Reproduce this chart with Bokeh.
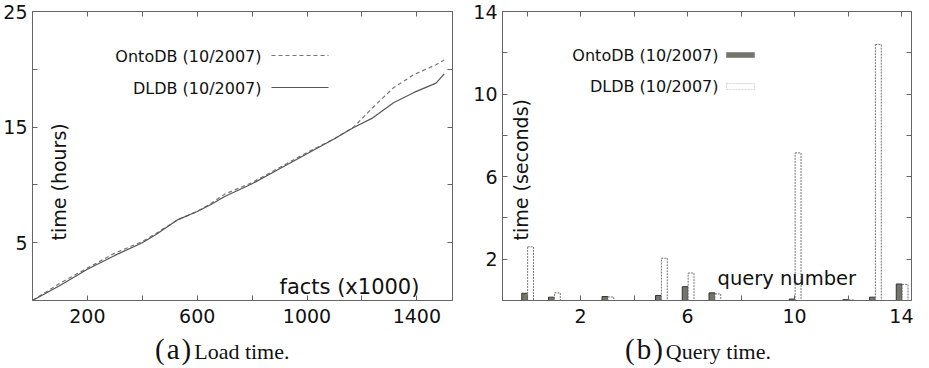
from bokeh.plotting import figure
from bokeh.layouts import row, column
from bokeh.models import (Label, Arrow, BoxAnnotation, FixedTicker, LinearAxis,
                          Range1d, ColumnDataSource, CustomJSTickFormatter, Div)
from bokeh.transform import dodge
from bokeh.embed import file_html
from bokeh.resources import INLINE

# ---------------- data ----------------
facts_k = [0, 100, 200, 300, 400, 450, 530, 600, 650, 700, 800, 900, 1000,
           1100, 1170, 1240, 1315, 1390, 1470, 1500]
dldb_hours = [0, 1.3, 2.7, 3.9, 5.0, 5.7, 7.0, 7.7, 8.3, 9.0, 10.1, 11.4, 12.7,
              14.0, 14.97, 15.8, 17.1, 18.0, 18.8, 19.6]
onto_hours = [0, 1.5, 2.8, 4.1, 5.1, 5.8, 7.0, 7.7, 8.4, 9.2, 10.2, 11.5, 12.8,
              14.0, 15.0, 16.7, 18.4, 19.55, 20.4, 20.8]

queries = list(range(15))
onto_secs = [0.35, 0.16, 0, 0.19, 0, 0.24, 0.67, 0.37, 0, 0, 0.07, 0, 0.04, 0.16, 0.8]
dldb_secs = [2.6, 0.37, 0, 0.17, 0, 2.05, 1.33, 0.32, 0, 0, 7.15, 0, 0.03, 12.4, 0.78]

left_x_major = [200, 600, 1000, 1400]
left_x_minor = [400, 800, 1200]
left_y_major = [5, 15, 25]
left_y_minor = [10, 20]
right_x_major = [2, 6, 10, 14]
right_x_minor = [0, 4, 8, 12]
right_y_major = [2, 6, 10, 14]
right_y_minor = [4, 8, 12]

series_names = ["OntoDB (10/2007)", "DLDB (10/2007)"]
captions = [("(a)", "Load time."), ("(b)", "Query time.")]

SANS = "DejaVu Sans"
FRAME = "#666666"
H = 330


def style_axis(ax, ticks, minor, labels=True):
    ax.ticker = FixedTicker(ticks=ticks, minor_ticks=minor)
    ax.axis_line_color = FRAME
    ax.major_tick_line_color = FRAME
    ax.minor_tick_line_color = FRAME
    ax.major_tick_in = 5
    ax.major_tick_out = 0
    ax.minor_tick_in = 5
    ax.minor_tick_out = 0
    ax.major_label_text_font = SANS
    ax.major_label_text_color = "#111111"
    if labels:
        ax.major_label_text_font_size = "19px"
    else:
        ax.formatter = CustomJSTickFormatter(code="return ''")
        ax.major_label_text_font_size = "1px"
        ax.major_label_standoff = 0


def base_fig(width, xr, yr, bl, br):
    p = figure(width=width, height=H, x_range=xr, y_range=yr,
               output_backend="svg", toolbar_location=None,
               min_border_left=bl, min_border_right=br,
               min_border_top=11, min_border_bottom=30)
    p.xgrid.visible = False
    p.ygrid.visible = False
    p.outline_line_color = FRAME
    p.outline_line_width = 1
    p.background_fill_color = "white"
    p.border_fill_color = "white"
    return p


def add_mirrors(p, xt, xm, yt, ym):
    top = LinearAxis()
    style_axis(top, xt, xm, labels=False)
    p.add_layout(top, "above")
    rt = LinearAxis()
    style_axis(rt, yt, ym, labels=False)
    p.add_layout(rt, "right")


def txt(p, text, x, y, size, align="left", baseline="alphabetic", angle=0.0):
    p.add_layout(Label(x=x, y=y, x_units="screen", y_units="screen", text=text,
                       text_font=SANS, text_font_size=size, text_color="#111111",
                       text_align=align, text_baseline=baseline, angle=angle))


def caption(width, pad, parts):
    html = ('<div style="padding-left:%dpx; font-family:\'Liberation Serif\', serif; '
            'color:#111; line-height:28px; white-space:nowrap;">'
            '<span style="font-size:29px; letter-spacing:2px">%s</span>'
            '<span style="font-size:22px; margin-left:1px">%s</span></div>') % (pad, parts[0], parts[1])
    return Div(text=html, width=width, height=34)


# ---------------- (a) load time ----------------
p1 = base_fig(470, Range1d(0, 1530), Range1d(0, 25), 30, 18)
style_axis(p1.xaxis[0], left_x_major, left_x_minor)
style_axis(p1.yaxis[0], left_y_major, left_y_minor)
p1.xaxis[0].major_label_standoff = 8
p1.yaxis[0].major_label_standoff = 5
add_mirrors(p1, left_x_major, left_x_minor, left_y_major, left_y_minor)

src1 = ColumnDataSource(dict(x=facts_k, onto=onto_hours, dldb=dldb_hours))
p1.line("x", "onto", source=src1, line_color="#777777", line_width=1.2,
        line_dash="4 3")
p1.line("x", "dldb", source=src1, line_color="#555555", line_width=1.2)

# legend (text left, sample right)
txt(p1, series_names[0], 229, 244, "16px", align="right", baseline="middle")
txt(p1, series_names[1], 229, 212, "16px", align="right", baseline="middle")
p1.add_layout(Arrow(end=None, x_start=239, y_start=245, x_end=296, y_end=245,
                    start_units="screen", end_units="screen",
                    line_color="#777777", line_width=1.2, line_dash="4 3"))
p1.add_layout(Arrow(end=None, x_start=239, y_start=213, x_end=296, y_end=213,
                    start_units="screen", end_units="screen",
                    line_color="#555555", line_width=1.2))

txt(p1, "facts (x1000)", 247, 14, "21px")
txt(p1, "time (hours)", 26, 60, "19px", angle=1.5707963)

# ---------------- (b) query time ----------------
p2 = base_fig(443, Range1d(-0.92, 14.37), Range1d(0, 14), 32, 2)
style_axis(p2.xaxis[0], right_x_major, right_x_minor)
style_axis(p2.yaxis[0], right_y_major, right_y_minor)
p2.xaxis[0].major_label_standoff = 8
p2.yaxis[0].major_label_standoff = 5
add_mirrors(p2, right_x_major, right_x_minor, right_y_major, right_y_minor)

src2 = ColumnDataSource(dict(q=queries, onto=onto_secs, dldb=dldb_secs))
p2.vbar(x=dodge("q", -0.09, range=p2.x_range), top="onto", width=0.22,
        source=src2, fill_color="#74746a", line_color="#333333", line_width=1)
p2.vbar(x=dodge("q", 0.13, range=p2.x_range), top="dldb", width=0.22,
        source=src2, fill_color="white", line_color="#777777", line_width=1,
        line_dash="2 1")

txt(p2, series_names[0], 216, 245, "16px", align="right", baseline="middle")
txt(p2, series_names[1], 216, 214, "16px", align="right", baseline="middle")
p2.add_layout(BoxAnnotation(left=224, right=252, bottom=243, top=248,
                            left_units="screen", right_units="screen",
                            bottom_units="screen", top_units="screen",
                            fill_color="#74746a", fill_alpha=1,
                            line_color="#333333", line_width=1))
p2.add_layout(BoxAnnotation(left=224, right=252, bottom=211, top=217,
                            left_units="screen", right_units="screen",
                            bottom_units="screen", top_units="screen",
                            fill_color="white", fill_alpha=1,
                            line_color="#777777", line_width=1, line_dash="2 1"))

txt(p2, "query number", 215, 22, "19.5px")
txt(p2, "time (seconds)", 18, 60, "19px", angle=1.5707963)

cap1 = caption(470, 150, captions[0])
cap2 = caption(443, 140, captions[1])

layout = column(row(p1, p2), row(cap1, cap2))
open("out.html", "w").write(file_html(layout, INLINE))
